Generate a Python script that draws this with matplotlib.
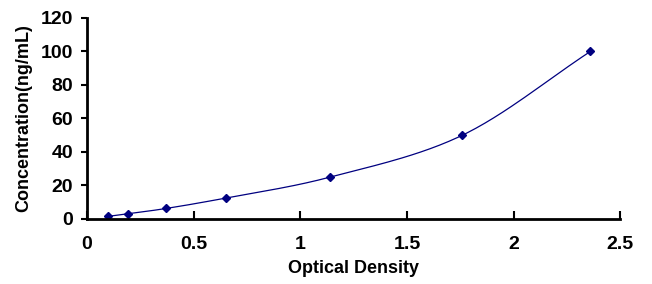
import matplotlib
matplotlib.use("Agg")
import matplotlib.pyplot as plt
import numpy as np

# standard curve data
od = [0.10, 0.19, 0.37, 0.65, 1.14, 1.76, 2.36]
conc = [1.56, 3.12, 6.25, 12.5, 25, 50, 100]


def smooth(x, y, n=30):
    """Catmull-Rom style smoothing through the points (like a spreadsheet smooth line)"""
    x = np.asarray(x, float)
    y = np.asarray(y, float)
    px = np.concatenate([[2 * x[0] - x[1]], x, [2 * x[-1] - x[-2]]])
    py = np.concatenate([[2 * y[0] - y[1]], y, [2 * y[-1] - y[-2]]])
    xs, ys = [], []
    t = np.linspace(0, 1, n)
    for i in range(1, len(px) - 2):
        for arr, out in ((px, xs), (py, ys)):
            p0, p1, p2, p3 = arr[i - 1], arr[i], arr[i + 1], arr[i + 2]
            out.extend(0.5 * (2 * p1 + (-p0 + p2) * t
                              + (2 * p0 - 5 * p1 + 4 * p2 - p3) * t ** 2
                              + (-p0 + 3 * p1 - 3 * p2 + p3) * t ** 3))
    return xs, ys


plt.rcParams["font.family"] = ["Liberation Sans", "DejaVu Sans"]
plt.rcParams["font.weight"] = "bold"

fig = plt.figure(figsize=(6.52, 2.84), dpi=100)
ax = fig.add_axes([0.1334, 0.229, 0.818, 0.708])

sx, sy = smooth(od, conc)
ax.plot(sx, sy, color="#000080", lw=0.9)
ax.plot(od, conc, linestyle="none", marker="D", ms=4.5, color="#000080")

ax.set_xlim(0, 2.5)
ax.set_ylim(0, 120)
ax.set_xticks([0, 0.5, 1, 1.5, 2, 2.5])
ax.set_xticklabels(["0", "0.5", "1", "1.5", "2", "2.5"])
ax.set_yticks(range(0, 121, 20))

for s in ("top", "right"):
    ax.spines[s].set_visible(False)
for s in ("left", "bottom"):
    ax.spines[s].set_linewidth(2)

ax.tick_params(axis="x", direction="in", length=6, width=1.5, labelsize=14, pad=12)
ax.tick_params(axis="y", direction="out", length=4, width=1.5, labelsize=14, pad=6)

ax.set_xlabel("Optical Density", fontsize=13, fontweight="bold", labelpad=5)
ax.set_ylabel("Concentration(ng/mL)", fontsize=13, fontweight="bold", labelpad=6)

fig.savefig("out.png", dpi=100)
